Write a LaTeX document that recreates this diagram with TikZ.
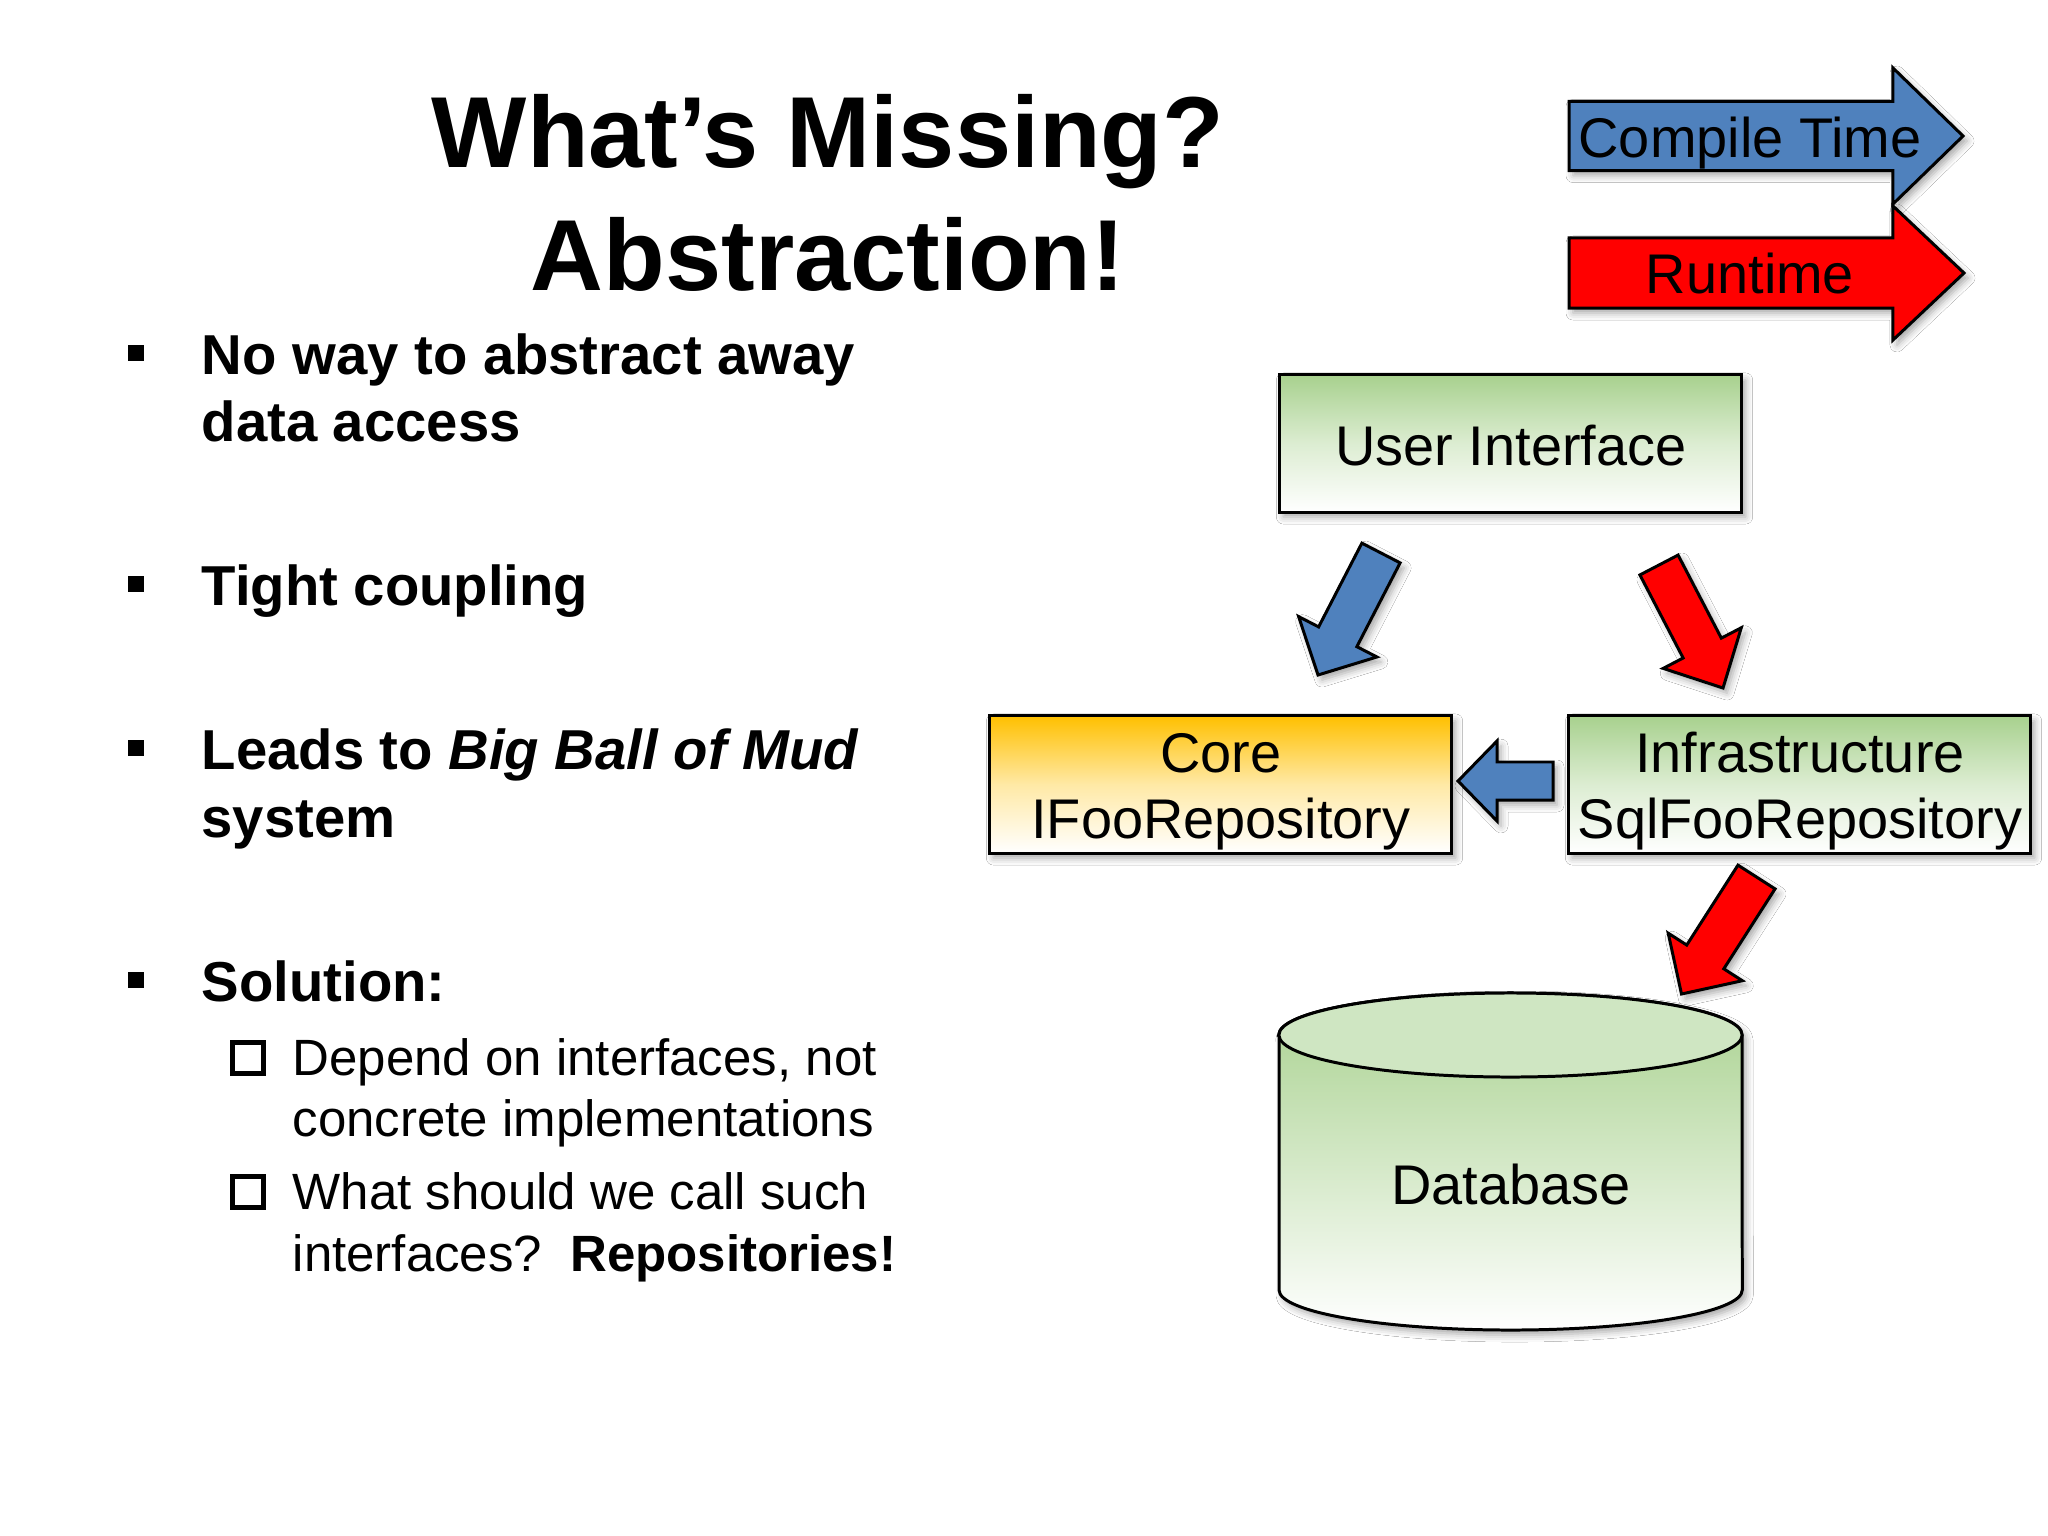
\documentclass[tikz,border=0pt]{standalone}
\usepackage{fontspec}
\setmainfont{Liberation Sans}
\usetikzlibrary{calc,shadows,shadows.blur}

\definecolor{ablue}{RGB}{79,129,189}
\definecolor{ared}{RGB}{255,0,0}
\definecolor{agreen}{RGB}{168,209,142}
\definecolor{acap}{RGB}{207,230,194}
\definecolor{agold}{RGB}{255,192,0}

% fat block arrow: #1 style, #2 tail centre, #3 tip, #4 shaft half width, #5 head half width, #6 head length
\newcommand{\fatarrow}[6]{%
  \coordinate (fa-hb) at ($(#3)!#6!(#2)$);
  \path[#1] ($(#2)!#4!90:(#3)$) -- ($(fa-hb)!#4!90:(#3)$) -- ($(fa-hb)!#5!90:(#3)$)
    -- (#3) -- ($(fa-hb)!#5!-90:(#3)$) -- ($(fa-hb)!#4!-90:(#3)$) -- ($(#2)!#4!-90:(#3)$) -- cycle;
}

\tikzset{
  softshadow/.style={blur shadow={shadow xshift=0.04cm, shadow yshift=-0.05cm, shadow blur radius=0.07cm, shadow opacity=35}},
  boxstyle/.style={draw=black, line width=0.85pt, rectangle, minimum width=4.62cm, minimum height=1.37cm, inner sep=0pt, softshadow},
  greenbox/.style={boxstyle, top color=agreen, bottom color=white, middle color=agreen!40!white},
  goldbox/.style={boxstyle, top color=agold, bottom color=white, middle color=agold!35!white},
  fatstyle/.style={draw=black, line width=0.85pt, line join=miter, softshadow},
  bluearrow/.style={fatstyle, fill=ablue},
  redarrow/.style={fatstyle, fill=ared},
  titletext/.style={inner sep=0pt, anchor=base, font=\fontsize{28.7}{34}\selectfont\bfseries},
  bultext/.style={inner sep=0pt, anchor=base west, font=\fontsize{16}{19}\selectfont\bfseries},
  subtext/.style={inner sep=0pt, anchor=base west, font=\fontsize{14.5}{17}\selectfont},
  dtext/.style={inner sep=0pt, anchor=base, font=\fontsize{15.9}{19}\selectfont},
  bulsq/.style={rectangle, fill=black, minimum size=0.16cm, inner sep=0pt},
  subsq/.style={rectangle, draw=black, line width=1.3pt, minimum size=0.31cm, inner sep=0pt},
}

\begin{document}
\begin{tikzpicture}[x=0.01cm, y=-0.01cm]
\useasboundingbox (0,0) rectangle (2048,1536);
\fill[white] (0,0) rectangle (2048,1536);

% ---------- title ----------
\node[titletext] (title1) at (828,167) {What’s Missing?};
\node[titletext] (title2) at (828,290) {Abstraction!};

% ---------- bullets ----------
\node[bulsq] (bm1) at (136,352.5) {};
\node[bultext] (b1a) at (201,374) {No way to abstract away};
\node[bultext] (b1b) at (201,441) {data access};

\node[bulsq] (bm2) at (136,583.5) {};
\node[bultext] (b2a) at (201,605) {Tight coupling};

\node[bulsq] (bm3) at (136,747.5) {};
\node[bultext] (b3a) at (201,769) {Leads to \textit{Big Ball of Mud}};
\node[bultext] (b3b) at (201,837) {system};

\node[bulsq] (bm4) at (136,979.5) {};
\node[bultext] (b4a) at (201,1001) {Solution:};

\node[subsq] (sm1) at (248,1058) {};
\node[subtext] (s1a) at (292,1075) {Depend on interfaces, not};
\node[subtext] (s1b) at (292,1136) {concrete implementations};

\node[subsq] (sm2) at (248,1192) {};
\node[subtext] (s2a) at (292,1209) {What should we call such};
\node[subtext] (s2b) at (292,1271) {interfaces?~~\textbf{Repositories!}};

% ---------- legend arrows ----------
\coordinate (ct-s) at (1569,136);
\coordinate (ct-e) at (1963,136);
\fatarrow{bluearrow}{ct-s}{ct-e}{0.345cm}{0.68cm}{0.70cm}
\node[dtext] (ctlabel) at (1750,157) {Compile Time};

\coordinate (rt-s) at (1569,273);
\coordinate (rt-e) at (1964,273);
\fatarrow{redarrow}{rt-s}{rt-e}{0.35cm}{0.67cm}{0.71cm}
\node[dtext] (rtlabel) at (1750,293) {Runtime};

% ---------- boxes ----------
\node[greenbox] (ui) at (1510.5,443.5) {};
\node[dtext] (uilabel) at (1511,465) {User Interface};

\node[goldbox] (core) at (1220.5,784.5) {};
\node[dtext] (core1) at (1221,772) {Core};
\node[dtext] (core2) at (1221,838) {IFooRepository};

\node[greenbox] (infra) at (1799.5,784.5) {};
\node[dtext] (infra1) at (1800,772) {Infrastructure};
\node[dtext] (infra2) at (1800,838) {SqlFooRepository};

% ---------- database ----------
\path[draw=black, line width=0.85pt, top color=agreen, bottom color=white, middle color=agreen!50!white, softshadow]
  (1279,1035) -- (1279,1290) arc[start angle=180, end angle=360, x radius=2.315cm, y radius=0.40cm]
  -- (1742,1035) arc[start angle=0, end angle=180, x radius=2.315cm, y radius=0.42cm] -- cycle;
\draw[line width=0.85pt, fill=acap] (1510.5,1035) ellipse [x radius=2.315cm, y radius=0.42cm];
\node[dtext] (db) at (1511,1204) {Database};

% ---------- dependency arrows ----------
\coordinate (ui-core-s) at (1381,553);
\coordinate (ui-core-e) at (1318,675);
\fatarrow{bluearrow}{ui-core-s}{ui-core-e}{0.215cm}{0.44cm}{0.43cm}

\coordinate (ui-infra-s) at (1659,565);
\coordinate (ui-infra-e) at (1723,688);
\fatarrow{redarrow}{ui-infra-s}{ui-infra-e}{0.215cm}{0.44cm}{0.45cm}

\coordinate (infra-core-s) at (1553,781);
\coordinate (infra-core-e) at (1458,781);
\fatarrow{bluearrow}{infra-core-s}{infra-core-e}{0.19cm}{0.40cm}{0.39cm}

\coordinate (infra-db-s) at (1756.5,877);
\coordinate (infra-db-e) at (1681.5,994);
\fatarrow{redarrow}{infra-db-s}{infra-db-e}{0.22cm}{0.44cm}{0.44cm}

\end{tikzpicture}
\end{document}
